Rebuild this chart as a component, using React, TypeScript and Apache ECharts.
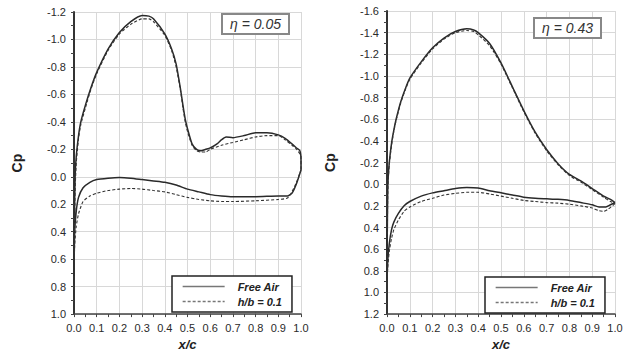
import React, { useEffect, useRef } from 'react';
import * as echarts from 'echarts';

type Pt = [number, number];

// Panel 1: eta = 0.05  (x/c, Cp)
const upperFree05: Pt[] = [
  [0, 0.72], [0.002, 0.3], [0.005, 0.0], [0.01, -0.15], [0.02, -0.3], [0.03, -0.4], [0.05, -0.52],
  [0.075, -0.65], [0.1, -0.76], [0.15, -0.93], [0.2, -1.05], [0.25, -1.13], [0.3, -1.175], [0.33, -1.17],
  [0.35, -1.15], [0.4, -1.04], [0.43, -0.93], [0.45, -0.82], [0.47, -0.63], [0.48, -0.52], [0.49, -0.42],
  [0.5, -0.35], [0.52, -0.24], [0.54, -0.2], [0.56, -0.19], [0.58, -0.2], [0.6, -0.21], [0.63, -0.24],
  [0.65, -0.27], [0.67, -0.29], [0.7, -0.285], [0.75, -0.3], [0.8, -0.32], [0.85, -0.32], [0.9, -0.305],
  [0.93, -0.28], [0.96, -0.24], [0.98, -0.21], [0.995, -0.19], [1.0, -0.12], [1.0, -0.05],
];
const lowerFree05: Pt[] = [
  [0, 0.72], [0.003, 0.4], [0.01, 0.25], [0.02, 0.15], [0.04, 0.08], [0.07, 0.04], [0.1, 0.02],
  [0.15, 0.01], [0.2, 0.005], [0.25, 0.01], [0.3, 0.02], [0.35, 0.03], [0.4, 0.04], [0.45, 0.06],
  [0.5, 0.09], [0.55, 0.11], [0.6, 0.13], [0.65, 0.14], [0.7, 0.145], [0.8, 0.145], [0.9, 0.14],
  [0.94, 0.14], [0.96, 0.12], [0.98, 0.05], [1.0, -0.05],
];
const upperGround05: Pt[] = [
  [0, 0.72], [0.002, 0.4], [0.005, 0.1], [0.01, -0.1], [0.02, -0.28], [0.03, -0.38], [0.05, -0.5],
  [0.075, -0.64], [0.1, -0.75], [0.15, -0.92], [0.2, -1.04], [0.25, -1.11], [0.3, -1.15], [0.33, -1.15],
  [0.35, -1.13], [0.4, -1.03], [0.43, -0.92], [0.45, -0.8], [0.47, -0.62], [0.48, -0.5], [0.49, -0.4],
  [0.5, -0.33], [0.52, -0.23], [0.54, -0.19], [0.56, -0.18], [0.58, -0.18], [0.6, -0.2], [0.65, -0.23],
  [0.7, -0.25], [0.75, -0.27], [0.8, -0.29], [0.85, -0.3], [0.9, -0.3], [0.93, -0.27], [0.96, -0.23],
  [0.98, -0.2], [1.0, -0.15], [1.0, -0.05],
];
const lowerGround05: Pt[] = [
  [0, 0.72], [0.003, 0.5], [0.01, 0.36], [0.02, 0.27], [0.04, 0.18], [0.07, 0.14], [0.1, 0.12],
  [0.15, 0.1], [0.2, 0.09], [0.25, 0.085], [0.3, 0.09], [0.35, 0.1], [0.4, 0.11], [0.45, 0.13],
  [0.5, 0.15], [0.55, 0.165], [0.6, 0.175], [0.65, 0.18], [0.7, 0.18], [0.8, 0.175], [0.9, 0.165],
  [0.94, 0.155], [0.96, 0.11], [0.98, 0.04], [1.0, -0.05],
];

// Panel 2: eta = 0.43
const upperFree43: Pt[] = [
  [0, 0.9], [0.001, 0.5], [0.003, 0.1], [0.005, -0.05], [0.01, -0.2], [0.02, -0.38], [0.03, -0.5],
  [0.04, -0.6], [0.06, -0.76], [0.08, -0.88], [0.1, -0.98], [0.15, -1.13], [0.2, -1.26], [0.25, -1.35],
  [0.3, -1.41], [0.35, -1.435], [0.38, -1.425], [0.4, -1.4], [0.45, -1.3], [0.5, -1.12], [0.55, -0.9],
  [0.6, -0.68], [0.65, -0.48], [0.7, -0.32], [0.75, -0.19], [0.8, -0.09], [0.85, -0.03], [0.9, 0.04],
  [0.95, 0.11], [0.98, 0.14], [1.0, 0.17],
];
const lowerFree43: Pt[] = [
  [0, 0.9], [0.003, 0.72], [0.01, 0.55], [0.02, 0.42], [0.03, 0.35], [0.05, 0.27], [0.075, 0.2],
  [0.1, 0.16], [0.15, 0.11], [0.2, 0.08], [0.25, 0.06], [0.3, 0.04], [0.35, 0.03], [0.4, 0.035],
  [0.45, 0.06], [0.5, 0.08], [0.55, 0.1], [0.6, 0.12], [0.65, 0.13], [0.7, 0.135], [0.75, 0.14],
  [0.8, 0.15], [0.85, 0.17], [0.9, 0.19], [0.93, 0.21], [0.96, 0.21], [0.98, 0.19], [1.0, 0.17],
];
const upperGround43: Pt[] = [
  [0, 0.9], [0.001, 0.55], [0.003, 0.15], [0.005, -0.02], [0.01, -0.18], [0.02, -0.36], [0.03, -0.49],
  [0.04, -0.59], [0.06, -0.75], [0.08, -0.87], [0.1, -0.97], [0.15, -1.12], [0.2, -1.25], [0.25, -1.34],
  [0.3, -1.4], [0.35, -1.42], [0.38, -1.41], [0.4, -1.38], [0.45, -1.28], [0.5, -1.11], [0.55, -0.89],
  [0.6, -0.67], [0.65, -0.47], [0.7, -0.31], [0.75, -0.18], [0.8, -0.08], [0.85, -0.02], [0.9, 0.05],
  [0.95, 0.12], [0.98, 0.16], [1.0, 0.18],
];
const lowerGround43: Pt[] = [
  [0, 0.9], [0.003, 0.78], [0.01, 0.62], [0.02, 0.5], [0.03, 0.42], [0.05, 0.33], [0.075, 0.25],
  [0.1, 0.21], [0.15, 0.16], [0.2, 0.13], [0.25, 0.1], [0.3, 0.085], [0.35, 0.075], [0.4, 0.075],
  [0.45, 0.09], [0.5, 0.11], [0.55, 0.13], [0.6, 0.15], [0.65, 0.16], [0.7, 0.17], [0.75, 0.175],
  [0.8, 0.185], [0.85, 0.2], [0.9, 0.22], [0.93, 0.245], [0.95, 0.25], [0.97, 0.23], [1.0, 0.18],
];

const panelTitles = ['η = 0.05', 'η = 0.43'];
const seriesNames = ['Free Air', 'h/b = 0.1'];
const yMins = [-1.2, -1.6];
const yMaxs = [1.0, 1.2];
const xAxisName = 'x/c';
const yAxisName = 'Cp';

const panels = [
  [[upperFree05, lowerFree05], [upperGround05, lowerGround05]],
  [[upperFree43, lowerFree43], [upperGround43, lowerGround43]],
];

function closedLoop(upper: Pt[], lower: Pt[]): Pt[] {
  const l = lower.slice().reverse();
  return [...l, ...upper.slice(1), lower[lower.length - 1]];
}

const FONT = 'Liberation Sans, Arial, sans-serif';

export default function App() {
  const ref = useRef<HTMLDivElement>(null);
  useEffect(() => {
    if (!ref.current) return;
    const chart = echarts.init(ref.current, undefined, { renderer: 'svg' });
    const grids = [
      { left: 74, top: 12, width: 227, height: 306 },
      { left: 387, top: 11, width: 228, height: 308 },
    ];
    const fmt = (v: number) => v.toFixed(1);
    const xAxes = grids.map((_, i) => ({
      type: 'value',
      gridIndex: i,
      min: 0,
      max: 1,
      interval: 0.1,
      name: xAxisName,
      nameLocation: 'middle',
      nameGap: 23,
      nameTextStyle: { fontFamily: FONT, fontSize: 13, fontWeight: 'bold', fontStyle: 'italic', color: '#222' },
      axisLine: { onZero: false, lineStyle: { color: '#444', width: 1.5 } },
      axisTick: { show: true, length: 3, lineStyle: { color: '#444' } },
      minorTick: { show: true, splitNumber: 2, length: 3, lineStyle: { color: '#444' } },
      axisLabel: { formatter: fmt, fontFamily: FONT, fontSize: 11, color: '#2a2a2a', margin: 8 },
      splitLine: { show: true, lineStyle: { color: '#d8d8d8', width: 1 } },
    }));
    const yAxes = grids.map((_, i) => ({
      type: 'value',
      gridIndex: i,
      inverse: true,
      min: yMins[i],
      max: yMaxs[i],
      interval: 0.2,
      name: yAxisName,
      nameLocation: 'middle',
      nameRotate: 90,
      nameGap: 50,
      nameTextStyle: { fontFamily: FONT, fontSize: 14, fontWeight: 'bold', color: '#222' },
      axisLine: { onZero: false, lineStyle: { color: '#333', width: 2 } },
      axisTick: { show: true, length: 3, lineStyle: { color: '#444' } },
      minorTick: { show: true, splitNumber: 2, length: 3, lineStyle: { color: '#444' } },
      axisLabel: { formatter: fmt, fontFamily: FONT, fontSize: 11, color: '#2a2a2a', margin: 8 },
      splitLine: { show: true, lineStyle: { color: '#d8d8d8', width: 1 } },
    }));
    const series: any[] = [];
    panels.forEach((panel, i) => {
      panel.forEach(([upper, lower], j) => {
        series.push({
          type: 'line',
          name: seriesNames[j],
          xAxisIndex: i,
          yAxisIndex: i,
          data: closedLoop(upper, lower),
          symbol: 'none',
          smooth: 0.2,
          clip: true,
          itemStyle: { color: j === 0 ? '#2a2a2a' : '#333' },
          lineStyle: j === 0
            ? { color: '#2a2a2a', width: 1.5, type: 'solid' }
            : { color: '#333', width: 1.1, type: [3, 2] },
        });
      });
    });
    const legendBase = {
      orient: 'vertical',
      data: seriesNames,
      itemWidth: 42,
      itemHeight: 10,
      itemGap: 4,
      padding: [5, 10, 5, 10],
      borderColor: '#222',
      borderWidth: 1.5,
      borderRadius: 0,
      backgroundColor: '#fff',
      align: 'left',
      selectedMode: false,
      itemStyle: { opacity: 0, borderWidth: 0 },
      lineStyle: { color: '#777', width: 1.3 },
      textStyle: { fontFamily: FONT, fontSize: 11, fontWeight: 'bold', fontStyle: 'italic', color: '#222', padding: [0, 0, 0, 8] },
    };
    const titleBase = {
      borderColor: '#888',
      borderWidth: 2,
      backgroundColor: '#fff',
      padding: [3, 8, 3, 8],
      textStyle: { fontFamily: FONT, fontSize: 14, fontStyle: 'italic', fontWeight: 'normal', color: '#333' },
    };
    chart.setOption({
      animation: false,
      backgroundColor: '#fff',
      grid: grids,
      xAxis: xAxes,
      yAxis: yAxes,
      series,
      legend: [
        { ...legendBase, left: 172, top: 276 },
        { ...legendBase, left: 485, top: 277 },
      ],
      title: [
        { ...titleBase, text: panelTitles[0], left: 222, top: 14 },
        { ...titleBase, text: panelTitles[1], left: 534, top: 18 },
      ],
    });
    return () => chart.dispose();
  }, []);
  return <div ref={ref} style={{ position: 'fixed', left: 0, top: 0, width: 630, height: 356 }} />;
}
